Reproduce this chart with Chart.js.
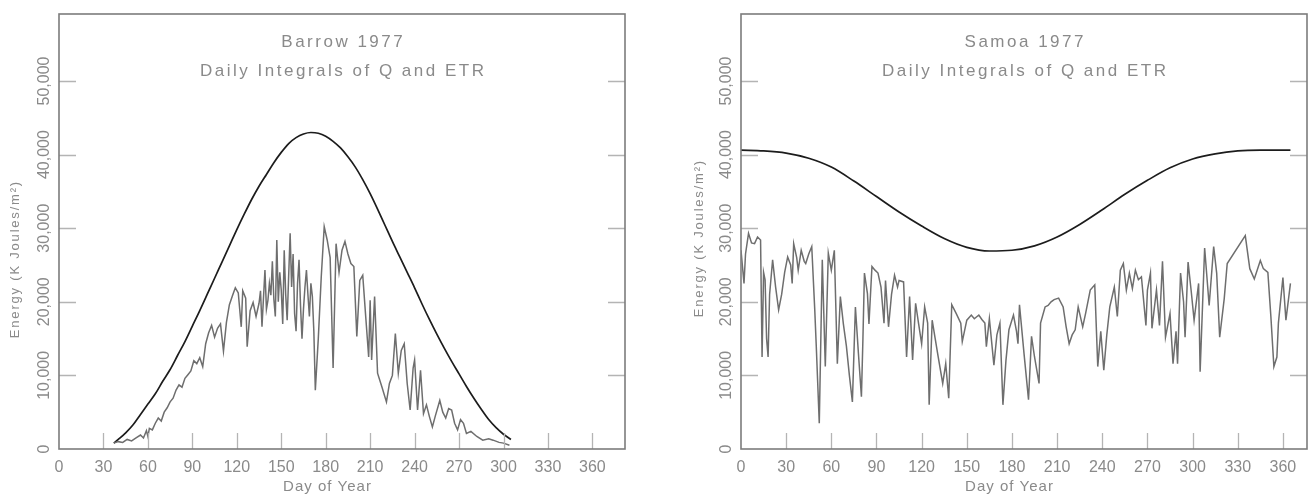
<!DOCTYPE html>
<html>
<head>
<meta charset="utf-8">
<title>Daily Integrals of Q and ETR, 1977</title>
<script src="https://cdn.jsdelivr.net/npm/chart.js@4.4.1/dist/chart.umd.min.js"></script>
<style>
  html, body { margin: 0; padding: 0; background: #fff; }
  #wrap { position: relative; width: 1316px; height: 496px; overflow: hidden; }
  .panel { position: absolute; top: 0; width: 658px; height: 496px; }
  #left { left: 0; }
  #right { left: 658px; }
</style>
</head>
<body>
<div id="wrap">
  <div class="panel" id="left"><canvas id="barrowChart" width="658" height="496"></canvas></div>
  <div class="panel" id="right"><canvas id="samoaChart" width="658" height="496"></canvas></div>
</div>
<script>
// Barrow 1977 - extraterrestrial radiation (ETR), K Joules/m2 per day
var barrowEtrDays = [37, 40, 45, 50, 55, 60, 65, 70, 75, 80, 85, 90, 95, 100, 105, 110, 115, 120, 125, 130, 135, 140, 145, 150, 155, 160, 165, 170, 175, 180, 185, 190, 195, 200, 205, 210, 215, 220, 225, 230, 235, 240, 245, 250, 255, 260, 265, 270, 275, 280, 285, 290, 295, 300, 305];
var barrowEtr = [800, 1300, 2200, 3300, 4700, 6100, 7500, 9200, 10800, 12700, 14600, 16700, 18800, 21000, 23200, 25400, 27600, 29800, 31900, 33900, 35700, 37300, 38900, 40300, 41500, 42300, 42800, 43000, 42900, 42500, 41800, 40900, 39700, 38300, 36600, 34700, 32600, 30400, 28200, 26100, 24000, 21900, 19700, 17600, 15600, 13700, 11900, 10200, 8500, 6900, 5400, 4000, 2900, 2000, 1300];

// Barrow 1977 - measured daily global radiation (Q)
var barrowQDays = [37, 40, 43, 46, 49, 52, 55, 57, 59, 60, 61, 63, 65, 67, 69, 71, 73, 75, 77, 79, 81, 83, 85, 87, 89, 91, 93, 95, 97, 99, 101, 103, 105, 107, 109, 111, 113, 115, 117, 119, 121, 123, 124, 126, 127, 129, 131, 133, 135, 136, 137, 138, 139, 140, 141, 142, 143, 144, 145, 146, 147, 148, 149, 150, 151, 152, 153, 154, 155, 156, 157, 158, 159, 160, 161, 162, 163, 164, 165, 166, 167, 168, 169, 170, 171, 172, 173, 175, 177, 179, 181, 183, 185, 187, 189, 191, 193, 195, 197, 199, 201, 203, 205, 207, 209, 210, 211, 213, 215, 218, 221, 223, 225, 227, 229, 231, 233, 235, 237, 239, 240, 242, 244, 246, 248, 250, 252, 254, 257, 259, 261, 263, 265, 267, 269, 271, 273, 275, 278, 282, 286, 290, 293, 297, 300, 304];
var barrowQ = [800, 1000, 900, 1300, 1100, 1500, 1900, 1500, 2500, 1700, 2800, 2600, 3500, 4200, 3800, 5000, 5600, 6400, 6900, 8000, 8700, 8400, 9600, 10100, 10600, 12000, 11600, 12400, 11200, 14300, 15800, 16800, 15200, 16400, 17000, 13300, 17200, 19600, 20800, 21900, 21200, 16600, 21500, 20500, 13900, 18800, 19900, 18000, 19800, 21500, 16600, 20500, 24300, 19000, 20200, 22500, 20900, 25500, 20400, 18000, 28400, 20000, 24000, 21600, 17000, 27000, 21000, 17500, 23500, 29300, 22000, 26500, 18400, 16000, 22500, 25700, 19500, 15000, 19000, 22000, 24300, 21000, 18000, 22500, 20700, 16000, 8000, 15000, 23400, 30200, 28400, 26000, 11000, 27900, 24000, 27000, 28200, 26500, 25200, 24800, 15300, 22900, 23600, 18000, 12500, 20200, 12100, 20700, 10300, 8400, 6400, 8900, 10000, 15700, 10300, 13400, 14300, 8900, 5300, 11000, 12100, 5300, 10700, 4800, 6000, 4400, 3000, 4500, 6600, 5000, 4200, 5500, 5300, 3500, 2600, 4000, 3500, 2100, 2400, 1700, 1200, 1400, 1200, 900, 800, 500];

// Samoa 1977 - extraterrestrial radiation (ETR)
var samoaEtrDays = [0, 15, 30, 45, 60, 75, 90, 105, 120, 135, 150, 165, 180, 195, 210, 225, 240, 255, 270, 285, 300, 315, 330, 345, 365];
var samoaEtr = [40600, 40500, 40200, 39500, 38300, 36400, 34300, 32200, 30300, 28600, 27400, 26900, 27000, 27600, 28800, 30500, 32500, 34600, 36500, 38200, 39400, 40100, 40500, 40600, 40600];

// Samoa 1977 - measured daily global radiation (Q)
var samoaQDays = [0, 2, 3, 5, 7, 9, 11, 13, 14, 15, 16, 17, 18, 19, 21, 23, 25, 27, 29, 31, 33, 34, 35, 37, 38, 40, 42, 43, 45, 47, 49, 50, 52, 54, 56, 58, 60, 62, 64, 66, 68, 70, 72, 74, 76, 78, 80, 81, 82, 84, 85, 87, 89, 91, 93, 95, 96, 98, 100, 102, 104, 105, 108, 110, 112, 114, 116, 118, 120, 122, 124, 125, 127, 129, 131, 134, 136, 138, 140, 143, 146, 147, 150, 153, 155, 158, 160, 162, 163, 165, 168, 170, 172, 174, 176, 178, 181, 183, 184, 185, 188, 191, 193, 195, 198, 199, 202, 204, 206, 208, 211, 214, 216, 218, 220, 222, 224, 227, 229, 232, 235, 237, 239, 241, 243, 245, 248, 250, 252, 254, 256, 258, 260, 262, 264, 266, 269, 270, 272, 273, 276, 278, 280, 282, 285, 287, 289, 290, 292, 294, 295, 297, 299, 301, 304, 305, 308, 311, 314, 316, 318, 321, 323, 335, 338, 341, 345, 347, 350, 352, 354, 356, 357, 360, 362, 365];
var samoaQ = [27000, 22500, 26500, 29300, 28000, 27900, 28800, 28400, 12500, 24000, 23000, 15000, 12500, 21000, 25700, 22000, 18900, 21000, 24000, 26100, 25000, 22500, 27900, 26000, 24300, 27000, 25500, 25200, 26500, 27500, 18900, 14000, 3500, 25700, 11200, 26600, 24300, 27000, 11600, 20700, 17000, 14000, 10000, 6400, 19300, 13000, 7100, 15000, 23900, 21100, 17000, 24800, 24300, 23900, 22000, 17100, 22900, 16600, 21000, 23600, 22000, 22900, 22700, 12500, 20700, 12100, 19800, 17000, 14300, 19300, 17100, 6000, 17500, 15000, 12500, 8900, 11600, 6900, 19600, 18400, 17100, 14600, 17500, 18200, 17700, 18200, 17600, 17100, 13900, 17700, 11400, 15500, 17100, 6000, 12000, 16200, 18200, 16000, 14300, 19600, 13000, 6700, 15300, 12500, 8900, 17100, 19300, 19500, 20000, 20300, 20500, 19300, 16600, 14300, 15500, 16200, 19300, 16600, 18500, 21600, 22300, 11200, 16000, 10700, 15500, 19300, 22000, 18000, 24300, 25200, 21600, 23900, 21800, 24300, 23000, 23400, 16800, 21600, 23900, 16400, 21600, 16800, 25500, 15200, 18400, 11600, 16000, 11600, 23900, 20000, 15200, 25400, 21600, 17500, 22500, 10500, 27300, 19500, 27500, 23900, 15200, 20400, 25200, 29000, 24500, 23100, 25600, 24500, 24000, 18000, 11200, 12500, 17100, 23300, 17500, 22500];

// axis ticks
var dayTicks = [0, 30, 60, 90, 120, 150, 180, 210, 240, 270, 300, 330, 360];
var energyTicks = [0, 10000, 20000, 30000, 40000, 50000];
var energyLabels = ["0", "10,000", "20,000", "30,000", "40,000", "50,000"];

var FONT = "'Liberation Sans', Arial, Helvetica, sans-serif";
var TEXT_GREY = "#8a8a8a";

function toPoints(xs, ys) {
    var pts = [];
    for (var i = 0; i < xs.length; i++) {
        pts.push({ x: xs[i], y: ys[i] });
    }
    return pts;
}

function spacedText(ctx, text, x, y, spacing) {
    ctx.letterSpacing = spacing + "px";
    ctx.fillText(text, x + spacing / 2, y);
    ctx.letterSpacing = "0px";
}

/** frame, inward tick marks, rotated energy labels and titles */
var panelDecor = {
    id: "panelDecor",
    afterDraw: function (chart) {
        var o = chart.options.plugins.panelDecor;
        var ctx = chart.ctx;
        var a = chart.chartArea;
        var xs = chart.scales.x;
        var ys = chart.scales.y;
        ctx.save();

        // short tick marks pointing into the plot
        ctx.strokeStyle = "#b4b4b4";
        ctx.lineWidth = 1.3;
        ctx.beginPath();
        dayTicks.forEach(function (d) {
            if (d === 0) return;
            var px = Math.round(xs.getPixelForValue(d)) + 0.5;
            ctx.moveTo(px, a.bottom);
            ctx.lineTo(px, a.bottom - 16);
        });
        energyTicks.forEach(function (v) {
            if (v === 0) return;
            var py = Math.round(ys.getPixelForValue(v)) + 0.5;
            ctx.moveTo(a.left, py);
            ctx.lineTo(a.left + 17, py);
            ctx.moveTo(a.right, py);
            ctx.lineTo(a.right - 17, py);
        });
        ctx.stroke();

        // frame
        ctx.strokeStyle = "#7c7c7c";
        ctx.lineWidth = 1.6;
        ctx.strokeRect(a.left, a.top, a.right - a.left, a.bottom - a.top);

        ctx.fillStyle = TEXT_GREY;
        ctx.textAlign = "center";
        ctx.textBaseline = "middle";

        // energy tick labels, reading bottom to top
        ctx.font = "16px " + FONT;
        energyTicks.forEach(function (v, i) {
            var py = ys.getPixelForValue(v);
            ctx.save();
            ctx.translate(a.left - 14, py);
            ctx.rotate(-Math.PI / 2);
            ctx.fillText(energyLabels[i], 0, 0);
            ctx.restore();
        });

        // y axis title
        ctx.font = "13px " + FONT;
        ctx.save();
        ctx.translate(a.left - o.yTitleGap, o.yTitleY);
        ctx.rotate(-Math.PI / 2);
        spacedText(ctx, "Energy (K Joules/m\u00B2)", 0, 0, 1.8);
        ctx.restore();

        // x axis title
        ctx.font = "15px " + FONT;
        spacedText(ctx, "Day of Year", a.left + 268, 487, 1);

        // chart title, inside the plot
        var cx = (a.left + a.right) / 2;
        ctx.font = "17px " + FONT;
        spacedText(ctx, o.station, cx, 42, 2.5);
        spacedText(ctx, "Daily Integrals of Q and ETR", cx, 71, 2.5);

        ctx.restore();
    }
};

function makePanel(canvasId, station, qDays, qVals, etrDays, etrVals, opts) {
    var ctx = document.getElementById(canvasId);
    return new Chart(ctx, {
        type: "line",
        data: {
            datasets: [
                {
                    label: "Q",
                    data: toPoints(qDays, qVals),
                    borderColor: "#6e6e6e",
                    borderWidth: 1.5,
                    pointRadius: 0,
                    tension: 0,
                },
                {
                    label: "ETR",
                    data: toPoints(etrDays, etrVals),
                    borderColor: "#1c1c1c",
                    borderWidth: 1.7,
                    pointRadius: 0,
                    cubicInterpolationMode: "monotone",
                },
            ],
        },
        options: {
            responsive: false,
            animation: false,
            devicePixelRatio: 1,
            layout: {
                padding: { left: 0, right: opts.padRight, top: 14, bottom: 0 },
            },
            scales: {
                x: {
                    type: "linear",
                    min: 0,
                    max: opts.xMax,
                    grid: { display: false, drawTicks: false },
                    border: { display: false },
                    afterBuildTicks: function (scale) {
                        scale.ticks = dayTicks.map(function (d) {
                            return { value: d };
                        });
                    },
                    afterFit: function (scale) {
                        scale.height = 47;
                    },
                    ticks: {
                        color: TEXT_GREY,
                        font: { family: FONT, size: 16 },
                        padding: 9,
                        maxRotation: 0,
                        autoSkip: false,
                    },
                },
                y: {
                    type: "linear",
                    min: 0,
                    max: 59100,
                    grid: { display: false, drawTicks: false },
                    border: { display: false },
                    ticks: { display: false },
                    afterFit: function (scale) {
                        scale.width = opts.axisWidth;
                    },
                },
            },
            plugins: {
                legend: { display: false },
                tooltip: { enabled: false },
                panelDecor: {
                    station: station,
                    yTitleY: opts.yTitleY,
                    yTitleGap: opts.yTitleGap,
                },
            },
        },
        plugins: [panelDecor],
    });
}

makePanel("barrowChart", "Barrow 1977", barrowQDays, barrowQ, barrowEtrDays, barrowEtr, {
    xMax: 382,
    padRight: 33,
    axisWidth: 59,
    yTitleY: 260,
    yTitleGap: 44,
});

makePanel("samoaChart", "Samoa 1977", samoaQDays, samoaQ, samoaEtrDays, samoaEtr, {
    xMax: 376,
    padRight: 9,
    axisWidth: 83,
    yTitleY: 239,
    yTitleGap: 42,
});
</script>
</body>
</html>
